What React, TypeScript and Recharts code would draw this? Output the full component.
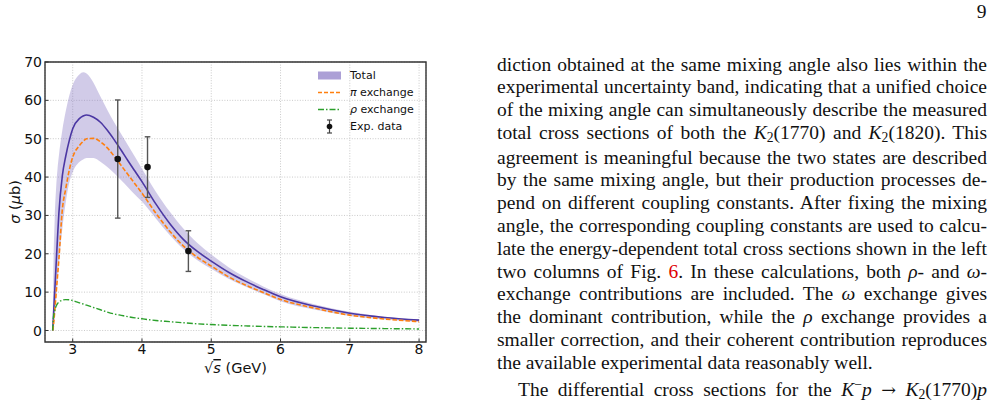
import {
  Area,
  CartesianGrid,
  ComposedChart,
  ErrorBar,
  Label,
  Legend,
  Line,
  ReferenceArea,
  Scatter,
  XAxis,
  YAxis,
} from 'recharts'

// sqrt(s) grid in GeV, from the K2(1770) p threshold up to 8 GeV
const SQRT_S = [
  2.711, 2.72, 2.74, 2.76, 2.78, 2.8, 2.85, 2.9, 2.95, 3.0, 3.1, 3.15, 3.2, 3.3, 3.4, 3.5, 3.6,
  3.7, 3.8, 3.9, 4.0, 4.2, 4.4, 4.6, 4.8, 5.0, 5.25, 5.5, 5.75, 6.0, 6.5, 7.0, 7.5, 8.0,
]

// cross sections in microbarn
const TOTAL = [
  0, 3, 10, 17, 24, 30.5, 40.3, 45.5, 49.5, 52.6, 55.3, 55.9, 56.2, 55.6, 54.3, 52.2, 49.7,
  47.0, 44.2, 41.5, 38.8, 33.0, 27.9, 23.7, 20.6, 18.1, 15.2, 12.8, 10.7, 8.8, 6.3, 4.5, 3.4, 2.7,
]
const TOTAL_LOW = [
  0, 0.5, 3.5, 8, 12.5, 17, 26.5, 33.5, 38.5, 41.3, 44.0, 44.6, 45.0, 45.0, 44.0, 42.6, 41.0,
  39.2, 37.3, 35.4, 33.6, 29.2, 24.9, 21.2, 18.3, 16.1, 13.5, 11.4, 9.5, 7.6, 5.4, 3.8, 2.85, 2.2,
]
const TOTAL_HIGH = [
  0, 14, 29, 37, 42, 45.5, 52.2, 57.2, 61.2, 64.0, 66.8, 67.3, 67.0, 64.6, 61.0, 57.5, 54.2,
  51.2, 48.2, 45.2, 42.2, 36.2, 31.0, 26.5, 22.8, 19.8, 16.5, 13.8, 11.5, 9.5, 6.8, 4.9, 3.6, 2.85,
]
const PI_EXCHANGE = [
  0, 1, 5, 9.5, 14, 18.5, 31.5, 37, 41.8, 45.2, 48.3, 49.3, 50.0, 50.1, 49.2, 47.6, 45.4,
  43.0, 40.6, 38.2, 35.8, 30.6, 25.9, 22.0, 19.1, 16.8, 14.0, 11.8, 9.9, 8.1, 5.8, 4.0, 3.0, 2.3,
]
const RHO_EXCHANGE = [
  0, 3.0, 5.2, 6.3, 7.0, 7.4, 7.9, 8.05, 8.0, 7.8, 7.2, 6.9, 6.6, 6.0, 5.4, 4.8, 4.3,
  3.95, 3.6, 3.3, 3.05, 2.6, 2.3, 2.0, 1.75, 1.55, 1.35, 1.2, 1.05, 0.95, 0.75, 0.6, 0.5, 0.4,
]

// measured points
const EXP_SQRT_S = [3.65, 4.08, 4.67]
const EXP_SIGMA = [44.7, 42.6, 20.7]
const EXP_ERR = [15.4, 7.9, 5.3]

const X_TICKS = [3, 4, 5, 6, 7, 8]
const Y_TICKS = [0, 10, 20, 30, 40, 50, 60, 70]

const rows = SQRT_S.map((x, i) => ({
  x,
  total: TOTAL[i],
  band: [TOTAL_LOW[i], TOTAL_HIGH[i]],
  pi: PI_EXCHANGE[i],
  rho: RHO_EXCHANGE[i],
}))

const expRows = EXP_SQRT_S.map((x, i) => ({ x, sigma: EXP_SIGMA[i], err: EXP_ERR[i] }))

const PURPLE = '#4b37a3'
const ORANGE = '#ff7f0e'
const GREEN = '#2ca02c'
const AXIS = '#333'
const SANS = '"DejaVu Sans", sans-serif'

function XTick({ x, y, payload }: any) {
  return (
    <g>
      <line x1={x} x2={x} y1={y - 2} y2={y - 5.5} stroke={AXIS} strokeWidth={1} />
      <text x={x} y={y} dy="0.71em" textAnchor="middle" fontFamily={SANS} fontSize={14} fill="#111">
        {payload.value}
      </text>
    </g>
  )
}

function YTick({ x, y, payload }: any) {
  return (
    <g>
      <line x1={x + 3} x2={x + 6.5} y1={y} y2={y} stroke={AXIS} strokeWidth={1} />
      <text x={x} y={y} dy="0.36em" textAnchor="end" fontFamily={SANS} fontSize={14} fill="#111">
        {payload.value}
      </text>
    </g>
  )
}

function LegendBox() {
  const row = { display: 'flex', alignItems: 'center', height: 17 }
  const label = { marginLeft: 9, fontFamily: SANS, fontSize: 11, color: '#111', whiteSpace: 'nowrap' as const }
  return (
    <div>
      <div style={row}>
        <svg width={23} height={17}>
          <rect x={0} y={4.5} width={23} height={8} fill="#8c7cc6" fillOpacity={0.72} />
        </svg>
        <span style={label}>Total</span>
      </div>
      <div style={row}>
        <svg width={23} height={17}>
          <line x1={0} x2={23} y1={8.5} y2={8.5} stroke={ORANGE} strokeWidth={1.5} strokeDasharray="4 2" />
        </svg>
        <span style={label}>
          <i>π</i> exchange
        </span>
      </div>
      <div style={row}>
        <svg width={23} height={17}>
          <line x1={0} x2={23} y1={8.5} y2={8.5} stroke={GREEN} strokeWidth={1.5} strokeDasharray="6 2 1.5 2" />
        </svg>
        <span style={label}>
          <i>ρ</i> exchange
        </span>
      </div>
      <div style={row}>
        <svg width={23} height={17}>
          <line x1={11.5} x2={11.5} y1={2} y2={15} stroke="#444" strokeWidth={1.2} />
          <line x1={9} x2={14} y1={2} y2={2} stroke="#444" strokeWidth={1.2} />
          <line x1={9} x2={14} y1={15} y2={15} stroke="#444" strokeWidth={1.2} />
          <circle cx={11.5} cy={8.5} r={2.8} fill="#111" />
        </svg>
        <span style={label}>Exp. data</span>
      </div>
    </div>
  )
}

function CrossSectionChart() {
  return (
    <ComposedChart width={440} height={400} data={rows} margin={{ top: 62, right: 14, bottom: 28, left: 5 }}>
      <CartesianGrid stroke="#bdbdbd" strokeWidth={0.8} strokeDasharray="1 1.6" />
      <XAxis
        dataKey="x"
        type="number"
        domain={[2.6, 8.1]}
        ticks={X_TICKS}
        allowDataOverflow
        axisLine={false}
        tickLine={false}
        tickSize={0}
        tickMargin={2}
        height={30}
        tick={<XTick />}
      >
        <Label
          content={(p: any) => {
            const { x, y, width } = p.viewBox
            return (
              <text x={x + width / 2} y={y + 31} textAnchor="middle" fontFamily={SANS} fontSize={14.5} fill="#111">
                <tspan>√</tspan>
                <tspan fontStyle="italic" textDecoration="overline">s</tspan>
                <tspan> (GeV)</tspan>
              </text>
            )
          }}
        />
      </XAxis>
      <YAxis
        type="number"
        domain={[-3, 70]}
        ticks={Y_TICKS}
        allowDataOverflow
        axisLine={false}
        tickLine={false}
        tickSize={0}
        tickMargin={3}
        width={40}
        tick={<YTick />}
      >
        <Label
          content={(p: any) => {
            const { x, y, height } = p.viewBox
            return (
              <text
                transform={`translate(${x + 10},${y + height / 2}) rotate(-90)`}
                textAnchor="middle"
                dominantBaseline="central"
                fontFamily={SANS}
                fontSize={14.5}
                fill="#111"
              >
                <tspan fontStyle="italic">σ</tspan>
                <tspan> (</tspan>
                <tspan fontStyle="italic">μ</tspan>
                <tspan>b)</tspan>
              </text>
            )
          }}
        />
      </YAxis>
      <Area
        dataKey="band"
        type="monotone"
        fill="#8c7cc6"
        fillOpacity={0.4}
        stroke="none"
        isAnimationActive={false}
      />
      <Line dataKey="total" type="monotone" stroke={PURPLE} strokeWidth={1.6} dot={false} isAnimationActive={false} />
      <Line
        dataKey="pi"
        type="monotone"
        stroke={ORANGE}
        strokeWidth={1.6}
        strokeDasharray="4.5 2"
        dot={false}
        isAnimationActive={false}
      />
      <Line
        dataKey="rho"
        type="monotone"
        stroke={GREEN}
        strokeWidth={1.4}
        strokeDasharray="6 2 1.5 2"
        dot={false}
        isAnimationActive={false}
      />
      <Scatter
        data={expRows}
        dataKey="sigma"
        isAnimationActive={false}
        shape={(p: any) => <circle cx={p.cx} cy={p.cy} r={3.3} fill="#111" />}
      >
        <ErrorBar dataKey="err" direction="y" width={2.8} stroke="#555" strokeWidth={1.4} />
      </Scatter>
      <ReferenceArea x1={2.6} x2={8.1} y1={-3} y2={70} fill="none" stroke={AXIS} strokeWidth={1.4} />
      <Legend
        layout="vertical"
        align="center"
        verticalAlign="middle"
        content={() => <LegendBox />}
        wrapperStyle={{ left: 318, top: 67, width: 110, height: 70 }}
      />
    </ComposedChart>
  )
}

const serif = '"Liberation Serif", "Times New Roman", serif'
const just = { textAlign: 'justify' as const, textAlignLast: 'justify' as const, whiteSpace: 'nowrap' as const }
const sub = (t: string) => (
  <span style={{ fontSize: '0.7em', position: 'relative', top: '0.22em' }}>{t}</span>
)
const K2 = (
  <>
    <i>K</i>
    {sub('2')}
  </>
)

function PageText() {
  return (
    <div
      style={{
        position: 'absolute',
        left: 497,
        top: 53.5,
        width: 490,
        fontFamily: serif,
        fontSize: 19.5,
        lineHeight: '22.8px',
        color: '#111',
      }}
    >
      <div style={just}>diction obtained at the same mixing angle also lies within the</div>
      <div style={just}>experimental uncertainty band, indicating that a unified choice</div>
      <div style={just}>of the mixing angle can simultaneously describe the measured</div>
      <div style={just}>
        total cross sections of both the {K2}(1770) and {K2}(1820). This
      </div>
      <div style={just}>agreement is meaningful because the two states are described</div>
      <div style={just}>by the same mixing angle, but their production processes de-</div>
      <div style={just}>pend on different coupling constants. After fixing the mixing</div>
      <div style={just}>angle, the corresponding coupling constants are used to calcu-</div>
      <div style={just}>late the energy-dependent total cross sections shown in the left</div>
      <div style={just}>
        two columns of Fig. <span style={{ color: '#e00000' }}>6</span>. In these calculations, both <i>ρ</i>- and{' '}
        <i>ω</i>-
      </div>
      <div style={just}>
        exchange contributions are included. The <i>ω</i> exchange gives
      </div>
      <div style={just}>
        the dominant contribution, while the <i>ρ</i> exchange provides a
      </div>
      <div style={just}>smaller correction, and their coherent contribution reproduces</div>
      <div style={{ whiteSpace: 'nowrap' }}>the available experimental data reasonably well.</div>
      <div style={{ ...just, marginTop: 4, paddingLeft: 21 }}>
        The differential cross sections for the <i>K</i>
        <span style={{ fontSize: '0.7em', position: 'relative', top: '-0.5em' }}>−</span>
        <i>p</i> <span style={{ fontFamily: '"DejaVu Serif", serif', fontSize: '0.9em' }}>→</span> {K2}(1770)<i>p</i>
      </div>
    </div>
  )
}

export default function App() {
  return (
    <div style={{ position: 'absolute', left: 0, top: 0, width: 994, height: 407, overflow: 'hidden', background: '#fff' }}>
      <div style={{ position: 'absolute', left: 0, top: 0 }}>
        <CrossSectionChart />
      </div>
      <div
        style={{
          position: 'absolute',
          right: 7.5,
          top: 1,
          fontFamily: serif,
          fontSize: 19.5,
          color: '#111',
        }}
      >
        9
      </div>
      <PageText />
    </div>
  )
}
